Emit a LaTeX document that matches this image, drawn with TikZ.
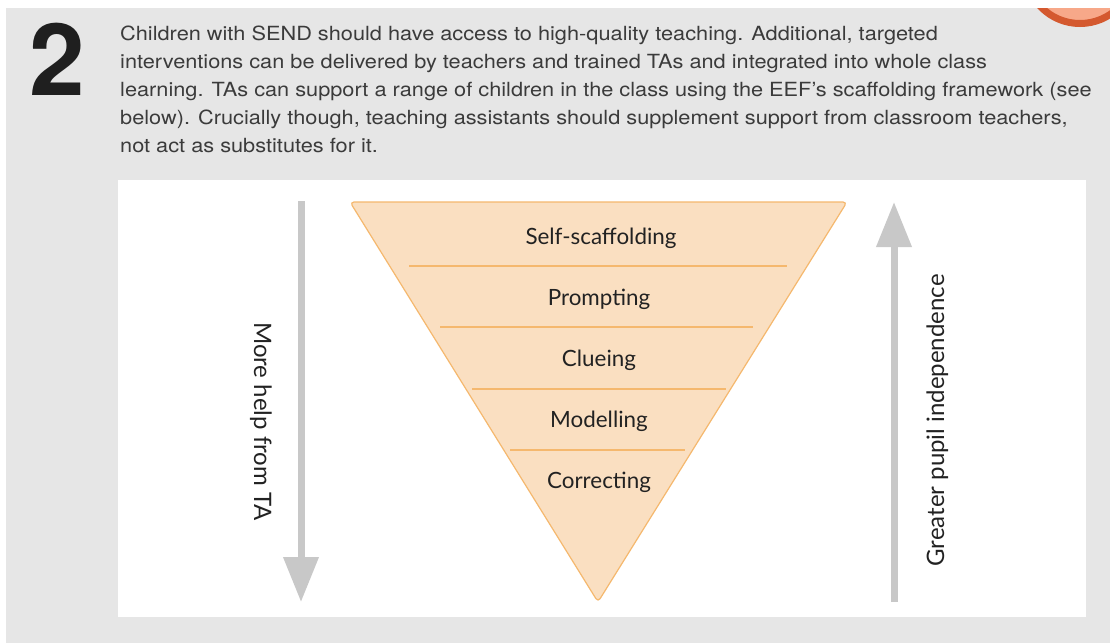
\documentclass[tikz,border=0pt]{standalone}
\usepackage{fontspec}
\setmainfont{TeX Gyre Heros}
\newfontfamily\lato{Lato}
\newfontfamily\bodyfont[FakeStretch=1.115]{TeX Gyre Heros}
\newfontfamily\numfont{TeX Gyre Heros}
\usetikzlibrary{arrows.meta}
\definecolor{bggrey}{HTML}{E6E6E6}
\definecolor{ringc}{HTML}{D4592F}
\definecolor{ringfill}{HTML}{F7A889}
\definecolor{bodytext}{HTML}{3B3B3B}
\definecolor{trifill}{HTML}{FADFC1}
\definecolor{triline}{HTML}{F5B86E}
\definecolor{arrowgrey}{HTML}{C8C8C8}
\definecolor{labeltext}{HTML}{222222}
\tikzset{
  bodyline/.style={anchor=base west, inner sep=0pt, text=bodytext, font=\bodyfont\fontsize{19.5}{24}\selectfont},
  level/.style={anchor=base, inner sep=0pt, text=labeltext, font=\lato\fontsize{22.4}{27}\selectfont},
  sidelabel/.style={anchor=base, inner sep=0pt, text=labeltext, font=\lato\fontsize{24}{29}\selectfont},
  divider/.style={draw=triline, line width=1.5pt},
  greyarrow/.style={draw=arrowgrey, line width=7pt, -{Triangle[length=45pt,width=34pt]}},
}
\begin{document}
\begin{tikzpicture}[x=1pt,y=-1pt]
\useasboundingbox (0,0) rectangle (1110,643);
\fill[white] (0,0) rectangle (1110,643);
\fill[bggrey] (6,8) rectangle (1110,643);
\begin{scope}
  \clip (6,8) rectangle (1110,643);
  \draw[ringc, fill=ringfill, line width=7pt] (1080,-31) circle[radius=54.5pt];
\end{scope}
% big number
\node[anchor=base west, inner sep=0pt, text=black!88, font=\numfont\bfseries\fontsize{100}{100}\selectfont] (num) at (29,95) {2};
% body text
\node[bodyline] (l1) at (120,40) {Children with SEND should have access to high-quality teaching. Additional, targeted};
\node[bodyline] (l2) at (120,68) {interventions can be delivered by teachers and trained TAs and integrated into whole class};
\node[bodyline] (l3) at (120,96) {learning. TAs can support a range of children in the class using the EEF’s scaffolding framework (see};
\node[bodyline] (l4) at (120,124) {below). Crucially though, teaching assistants should supplement support from classroom teachers,};
\node[bodyline] (l5) at (120,152) {not act as substitutes for it.};
% white panel
\fill[white] (118,180) rectangle (1086,617);
% triangle
\draw[triline, fill=trifill, line width=1.2pt, rounded corners=4pt, line join=round] (350,202) -- (847,202) -- (598,602) -- cycle;
\draw[divider] (409,266) -- (787,266);
\draw[divider] (440,327) -- (753,327);
\draw[divider] (472,389) -- (726,389);
\draw[divider] (510,450) -- (685,450);
\node[level] (self) at (601,244) {Self-scaffolding};
\node[level] (prompt) at (599,305) {Prompting};
\node[level] (clue) at (599,366) {Clueing};
\node[level] (model) at (599,427) {Modelling};
\node[level] (correct) at (599,488) {Correcting};
% arrows
\coordinate (ltop) at (301,201);
\coordinate (lbot) at (301,602);
\coordinate (rbot) at (894,602);
\coordinate (rtop) at (894,202);
\draw[greyarrow] (ltop) -- (lbot);
\draw[greyarrow] (rbot) -- (rtop);
\node[sidelabel, rotate=-90] (help) at (254,421.5) {More help from TA};
\node[sidelabel, rotate=90] (indep) at (944,420.5) {Greater pupil independence};
\end{tikzpicture}
\end{document}
